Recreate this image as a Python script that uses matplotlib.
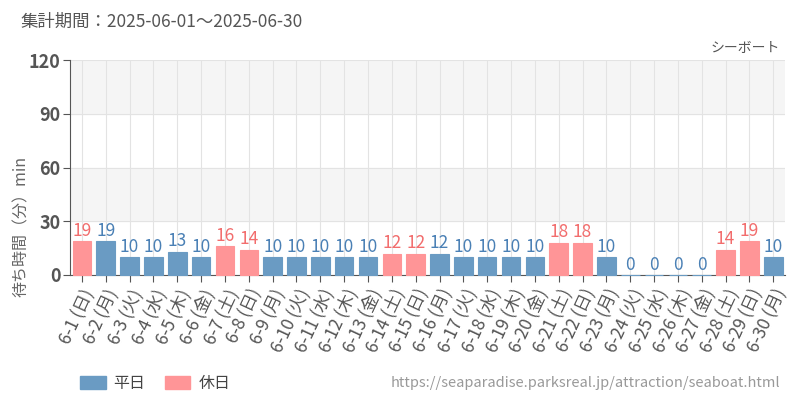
import matplotlib.pyplot as plt
from matplotlib.patches import Patch

plt.rcParams['font.family'] = ['Noto Sans CJK JP', 'DejaVu Sans']

# June 2025 data
days = list(range(1, 31))
weekdays = ["日", "月", "火", "水", "木", "金", "土"] * 5
weekdays = weekdays[:30]
holiday = [w in ("土", "日") for w in weekdays]
waits = [19, 19, 10, 10, 13, 10, 16, 14, 10, 10, 10, 10, 10, 12, 12,
         12, 10, 10, 10, 10, 18, 18, 10, 0, 0, 0, 0, 14, 19, 10]
labels = [f"6-{d} ({w})" for d, w in zip(days, weekdays)]

blue = "#6a9bc3"
pink = "#ff9597"
blue_txt = "#4a80b5"
pink_txt = "#f26d6d"

fig = plt.figure(figsize=(8, 4), dpi=100)
ax = fig.add_axes([0.0875, 0.3125, 0.894, 0.5375])

x = list(range(len(days)))
colors = [pink if h else blue for h in holiday]
bars = ax.bar(x, waits, width=0.78, color=colors, edgecolor=colors,
              linewidth=0.8, zorder=3)
for b in bars:
    b.set_clip_on(False)

for xi, v, h in zip(x, waits, holiday):
    ax.text(xi, v + 0.8, str(v), ha="center", va="bottom", fontsize=12.5,
            color=pink_txt if h else blue_txt, zorder=4)

# background bands
for lo, hi in [(30, 60), (90, 120)]:
    ax.axhspan(lo, hi, color="#f5f5f5", zorder=0)

ax.set_xlim(-0.5, len(days) - 0.5)
ax.set_ylim(0, 120)
ax.set_yticks([0, 30, 60, 90, 120])
ax.set_xticks(x)
ax.set_xticklabels(labels, rotation=65, ha="right", rotation_mode="anchor",
                   fontsize=12.5)
for lbl, h in zip(ax.get_xticklabels(), holiday):
    lbl.set_color(pink if h else "#444444")

ax.grid(True, color="#e3e3e3", linewidth=0.8, zorder=1)
for side in ["top", "right"]:
    ax.spines[side].set_visible(False)
ax.spines["left"].set_color("#555555")
ax.spines["bottom"].set_color("#555555")
ax.tick_params(axis="y", labelsize=13, colors="#555555", length=5, pad=2)
ax.tick_params(axis="x", colors="#555555", length=5, pad=3)
for lbl in ax.get_yticklabels():
    lbl.set_fontweight("bold")
    lbl.set_color("#555555")

fig.text(0.027, 0.435, "待ち時間（分）min", fontsize=11.5, color="#666666",
         rotation=90, ha="center", va="center")

fig.text(0.025, 0.945, "集計期間：2025-06-01～2025-06-30", fontsize=12.5,
         color="#555555", va="center")
fig.text(0.975, 0.88, "シーボート", fontsize=10, color="#555555",
         ha="right", va="center")
fig.text(0.975, 0.042, "https://seaparadise.parksreal.jp/attraction/seaboat.html",
         fontsize=10.5, color="#999999", ha="right", va="center")

handles = [Patch(color=blue, label="平日"), Patch(color=pink, label="休日")]
fig.legend(handles=handles, loc="center left", bbox_to_anchor=(0.082, 0.042),
           ncol=2, frameon=False, fontsize=11.5, handlelength=1.6,
           handleheight=0.9, handletextpad=0.5, columnspacing=1.2,
           labelcolor="#444444")

fig.savefig("out.png", dpi=100)
